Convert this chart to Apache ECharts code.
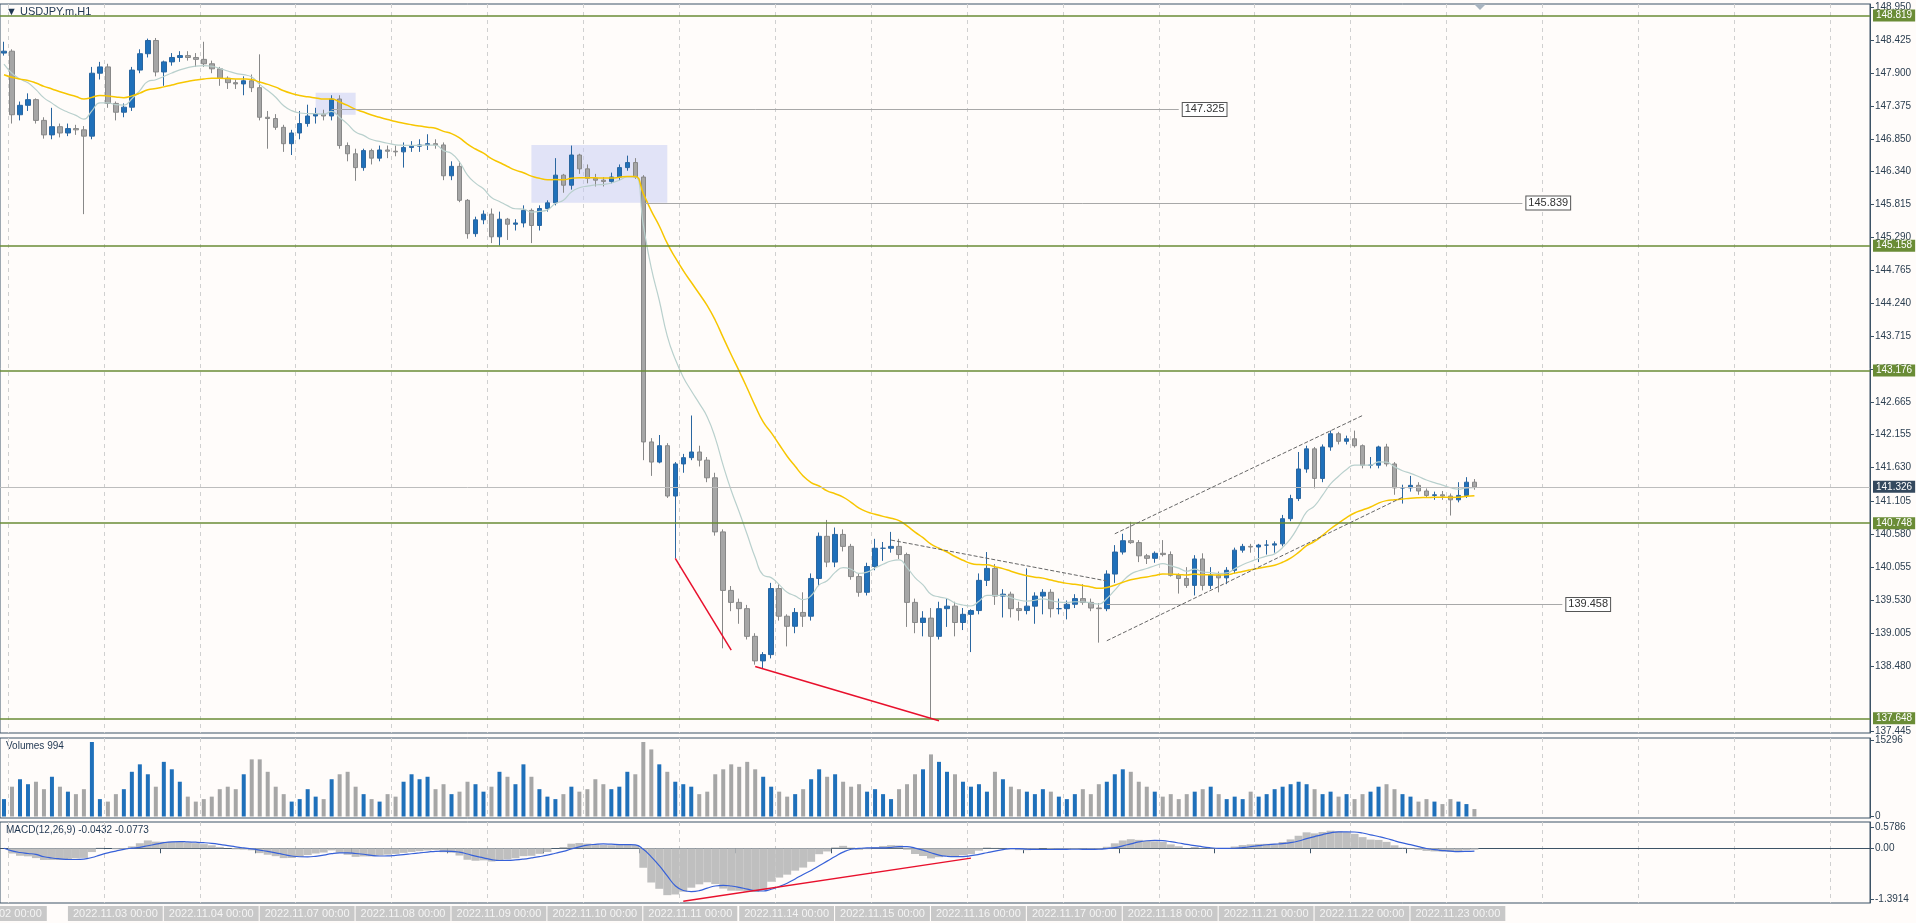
<!DOCTYPE html>
<html><head><meta charset="utf-8">
<script src="https://cdn.jsdelivr.net/npm/echarts@6/dist/echarts.min.js"></script>
<style>html,body{margin:0;padding:0;background:#fffcfa}#c{width:1916px;height:923px}</style>
</head><body><div id="c"></div>
<script>
// trading days (Nov 2022) and 2-hour bars
const tradingDays = [2,3,4,7,8,9,10,11,14,15,16,17,18,21,22,23];
// candles: [open, close, low, high]
const candles = [
[148.22,148.25,148.18,148.40],[148.25,147.24,147.10,148.28],[147.24,147.39,147.15,147.45],[147.39,147.48,147.30,147.58],
[147.48,147.15,147.10,147.50],[147.15,146.92,146.86,147.20],[146.92,147.05,146.85,147.35],[147.05,146.95,146.88,147.10],
[146.95,147.02,146.90,147.10],[147.02,147.00,146.92,147.08],[147.00,146.90,145.66,147.06],[146.90,147.90,146.85,148.00],
[147.90,148.00,147.80,148.08],[148.00,147.42,147.35,148.05],[147.42,147.28,147.15,147.45],[147.28,147.36,147.20,147.42],
[147.36,147.95,147.30,148.00],[147.95,148.21,147.90,148.28],[148.21,148.42,148.15,148.45],[148.42,147.92,147.85,148.46],
[147.92,148.08,147.70,148.10],[148.08,148.15,148.02,148.22],[148.15,148.18,148.08,148.25],[148.18,148.15,148.10,148.25],
[148.15,148.12,148.00,148.22],[148.12,148.05,148.00,148.40],[148.05,147.97,147.90,148.10],[147.97,147.82,147.70,148.00],
[147.82,147.75,147.65,147.85],[147.75,147.73,147.65,147.80],[147.73,147.78,147.55,147.85],[147.78,147.67,147.60,147.88],
[147.67,147.20,147.15,148.20],[147.20,147.18,146.70,147.30],[147.18,147.04,147.00,147.25],[147.04,146.78,146.65,147.08],
[146.78,146.95,146.60,147.00],[146.95,147.10,146.85,147.30],[147.10,147.22,147.05,147.40],[147.22,147.25,147.10,147.35],
[147.25,147.22,147.15,147.32],[147.22,147.49,147.15,147.55],[147.49,146.75,146.70,147.55],[146.75,146.62,146.50,146.80],
[146.62,146.40,146.19,146.70],[146.40,146.67,146.35,146.70],[146.67,146.55,146.45,146.70],[146.55,146.68,146.50,146.75],
[146.68,146.66,146.55,146.75],[146.66,146.65,146.58,146.75],[146.65,146.72,146.40,146.80],[146.72,146.74,146.65,146.82],
[146.74,146.76,146.65,146.85],[146.76,146.78,146.68,146.93],[146.78,146.76,146.70,146.85],[146.76,146.27,146.20,146.80],
[146.27,146.42,146.20,146.50],[146.42,145.88,145.85,146.50],[145.88,145.35,145.27,145.90],[145.35,145.57,145.30,145.62],
[145.57,145.66,145.50,145.72],[145.66,145.30,145.20,145.75],[145.30,145.58,145.16,145.70],[145.58,145.50,145.25,145.60],
[145.50,145.52,145.40,145.58],[145.52,145.72,145.45,145.80],[145.72,145.48,145.20,145.75],[145.48,145.75,145.40,145.80],
[145.75,145.84,145.70,145.88],[145.84,146.28,145.80,146.55],[146.28,146.12,146.00,146.30],[146.12,146.60,146.05,146.75],
[146.60,146.38,146.30,146.62],[146.38,146.23,146.15,146.45],[146.23,146.20,146.10,146.30],[146.20,146.18,146.10,146.25],
[146.18,146.25,146.15,146.32],[146.25,146.40,146.20,146.45],[146.40,146.48,146.35,146.59],[146.48,146.25,146.22,146.55],
[146.25,142.04,141.75,146.28],[142.04,141.72,141.50,142.10],[141.72,141.98,141.70,142.15],[141.98,141.18,141.15,142.02],
[141.18,141.69,140.19,141.72],[141.69,141.79,141.55,141.85],[141.79,141.88,141.75,142.46],[141.88,141.75,141.65,141.98],
[141.75,141.47,141.40,141.80],[141.47,140.61,140.55,141.55],[140.61,139.68,138.76,140.65],[139.68,139.49,139.35,139.75],
[139.49,139.39,139.15,139.55],[139.39,138.95,138.90,139.45],[138.95,138.56,138.50,139.00],[138.56,138.66,138.44,138.70],
[138.66,139.71,138.60,139.80],[139.71,139.27,139.20,139.78],[139.27,139.11,138.79,139.30],[139.11,139.33,139.00,139.40],
[139.33,139.27,139.10,139.65],[139.27,139.87,139.20,139.95],[139.87,140.54,139.75,140.60],[140.54,140.13,140.05,140.80],
[140.13,140.57,140.05,140.68],[140.57,140.38,140.30,140.65],[140.38,139.90,139.85,140.42],[139.90,139.65,139.58,139.95],
[139.65,140.06,139.60,140.12],[140.06,140.35,140.00,140.50],[140.35,140.35,140.15,140.45],[140.35,140.38,140.28,140.61],
[140.38,140.25,140.18,140.50],[140.25,139.49,139.10,140.28],[139.49,139.17,139.00,139.55],[139.17,139.24,138.95,139.35],
[139.24,138.95,137.64,139.40],[138.95,139.39,138.90,139.50],[139.39,139.43,139.10,139.55],[139.43,139.17,138.95,139.50],
[139.17,139.30,139.05,139.40],[139.30,139.36,138.70,139.38],[139.36,139.84,139.30,139.95],[139.84,140.03,139.75,140.29],
[140.03,139.59,139.45,140.10],[139.59,139.62,139.25,139.70],[139.62,139.39,139.25,139.66],[139.39,139.36,139.20,139.50],
[139.36,139.43,139.30,140.03],[139.43,139.59,139.15,139.65],[139.59,139.65,139.30,139.70],[139.65,139.39,139.25,139.70],
[139.39,139.39,139.30,139.55],[139.39,139.46,139.22,139.52],[139.46,139.55,139.40,139.62],[139.55,139.49,139.45,139.78],
[139.49,139.40,139.35,139.55],[139.40,139.39,138.85,139.48],[139.39,139.94,139.35,140.00],[139.94,140.29,139.80,140.40],
[140.29,140.47,140.25,140.58],[140.47,140.44,140.42,140.77],[140.44,140.23,140.13,140.48],[140.23,140.19,140.10,140.26],
[140.19,140.27,140.12,140.30],[140.27,140.25,140.22,140.48],[140.25,139.92,139.90,140.30],[139.92,139.87,139.63,139.95],
[139.87,139.76,139.72,140.05],[139.76,140.18,139.60,140.24],[140.18,139.76,139.68,140.27],[139.76,139.92,139.70,140.05],
[139.92,139.88,139.65,139.98],[139.88,140.00,139.78,140.05],[140.00,140.32,139.95,140.36],[140.32,140.38,140.28,140.42],
[140.38,140.37,140.28,140.42],[140.37,140.40,140.13,140.42],[140.40,140.40,140.25,140.48],[140.40,140.42,140.28,140.46],
[140.42,140.82,140.38,140.88],[140.82,141.14,140.78,141.20],[141.14,141.61,141.10,141.88],[141.61,141.93,141.55,141.98],
[141.93,141.46,141.30,141.96],[141.46,141.96,141.40,142.00],[141.96,142.17,141.90,142.22],[142.17,142.05,142.00,142.20],
[142.05,142.09,142.00,142.14],[142.09,141.98,141.95,142.22],[141.98,141.67,141.62,142.00],[141.67,141.67,141.62,141.80],
[141.67,141.96,141.62,141.98],[141.96,141.69,141.65,142.01],[141.69,141.31,141.20,141.72],[141.31,141.31,141.06,141.36],
[141.31,141.35,141.25,141.50],[141.35,141.26,141.20,141.40],[141.26,141.19,141.15,141.30],[141.19,141.20,141.12,141.25],
[141.20,141.18,141.12,141.26],[141.18,141.12,140.87,141.22],[141.12,141.19,141.08,141.40],[141.19,141.40,141.15,141.48],
[141.40,141.326,141.28,141.45]
];
const volumes = [
3500,6000,7500,6500,7000,5500,8000,6000,
5000,4500,5500,15000,3500,3000,4500,5500,9000,10500,8500,6000,
11000,9500,7000,4000,3000,3500,4000,5500,6000,5500,8500,11500,
11500,9000,6000,4500,3000,3500,5500,4000,3500,7500,8500,9000,
6000,4500,3500,3000,4500,4000,7000,8500,7500,8000,5500,6500,
4500,5000,7000,6500,5000,6000,9000,8000,6500,10500,8000,5500,
4000,3500,4500,6000,5000,5500,7500,6500,5500,6000,9000,8500,
15000,13500,10500,9000,7000,6500,6000,4500,5000,8500,9500,10500,
10000,11000,9500,8000,6000,5000,4000,4500,5500,7500,9500,8000,
8500,7000,6000,6500,5000,5500,4500,3500,5500,6500,8500,9500,
12500,11000,9000,8500,7000,6000,6500,5000,9000,7500,6000,5500,
5000,4500,5500,5000,4000,3500,4500,5500,4500,6500,7000,8500,
9500,9000,7000,6000,5000,4000,4500,3500,4500,5000,5500,6000,
4500,3500,4000,3500,5000,4000,4500,5500,6000,6500,7000,6500,
5500,4500,5000,4000,4500,3500,4500,5000,6000,6500,5500,4500,
4000,3000,3500,3000,2500,3500,3000,2500,1500];
const priceTicks = [148.950,148.425,147.900,147.375,146.850,146.340,145.815,145.290,144.765,144.240,143.715,143.190,142.665,142.155,141.630,141.105,140.580,140.055,139.530,139.005,138.480,137.445];
const greenLevels = [148.819,145.158,143.176,140.748,137.648];
const roundLevels = [149,148,147,146,145,144,143,142,141,140,139,138];
const volTicks = [0,15296];
const macdTicks = [0.5786,0,-1.3914];
const macdTickText = ['0.5786','0.00','-1.3914'];

const cats = [];
tradingDays.forEach(d => {
  const h0 = d === 2 ? 8 : 0, h1 = d === 23 ? 16 : 22;
  for (let h = h0; h <= h1; h += 2) cats.push('2022.11.' + String(d).padStart(2,'0') + ' ' + String(h).padStart(2,'0') + ':00');
});
const TOTAL = 234;
while (cats.length < TOTAL) cats.push('');
const closes = candles.map(c => c[1]);
function sma(arr, n){ return arr.map((v,i)=>{const s=Math.max(0,i-n+1);let t=0;for(let k=s;k<=i;k++)t+=arr[k];return +(t/(i-s+1)).toFixed(4);}); }
function ema(arr, n, init){ const a=2/(n+1); let e=init!==undefined?init:arr[0]; return arr.map(v=>(e=e+(v-e)*a)); }
const maFast = ema(closes, 10, 148.0).map(v=>+v.toFixed(4));
const maSlow = ema(closes, 30, 147.85).map(v=>+v.toFixed(4));
const ef = ema(closes,6), es = ema(closes,13);
const macdMain = ef.map((v,i)=>+(v-es[i]).toFixed(4));
const macdSig = sma(macdMain,5);
const upColor='#1f70ba', dnColor='#a6a6a6';
const volData = volumes.map((v,i)=>({value:v,itemStyle:{color: candles[i][1]>=candles[i][0]?upColor:dnColor}}));

const dashed = {type:'dashed',color:'#666',width:1};
const red = {type:'solid',color:'#e8102c',width:1.5};
const markLines = [];
greenLevels.forEach(v=>markLines.push({yAxis:v,lineStyle:{color:'#6a8c36',width:1.5,type:'solid'},
  label:{show:true,position:'end',formatter:v.toFixed(3),backgroundColor:'#6a8c36',color:'#fff',padding:[1,3],fontSize:10,distance:3}}));
markLines.push({yAxis:141.326,lineStyle:{color:'#bdbdbd',width:1,type:'solid'},
  label:{show:true,position:'end',formatter:'141.326',backgroundColor:'#34495e',color:'#fff',padding:[1,3],fontSize:10,distance:3}});
function seg(x1,y1,x2,y2,style,label){ const a={coord:[x1,y1],lineStyle:style}; if(label)a.label=label; else a.label={show:false}; return [a,{coord:[x2,y2]}]; }
const boxLabel = t => ({show:true,position:'end',formatter:t,backgroundColor:'#fff',borderColor:'#555',borderWidth:1,color:'#333',padding:[1,2],fontSize:11,distance:4});
const gline = {type:'solid',color:'#a8a8a8',width:1};
markLines.push(seg(41,147.325,146.5,147.325,gline,boxLabel('147.325')));
markLines.push(seg(80,145.839,189.5,145.839,gline,boxLabel('145.839')));
markLines.push(seg(138,139.458,195,139.458,gline,boxLabel('139.458')));
roundLevels.forEach(v=>markLines.push(seg(208.6,v,233.5,v,{type:'solid',color:'#9e9e9e',width:1},
  {show:true,position:'insideStartBottom',formatter:v.toFixed(3),color:'#b3b3b3',fontSize:13,distance:[-2,2]})));
markLines.push(seg(84,140.19,91,138.73,red));
markLines.push(seg(94,138.47,117,137.61,red));
markLines.push(seg(111,140.48,138,139.83,dashed));
markLines.push(seg(139,140.58,170,142.46,dashed));
markLines.push(seg(138,138.88,175,141.16,dashed));

const gridLine = {show:true,interval:(i)=>i%12===1,lineStyle:{color:'#d0d0d0',type:[4,4]}};
const font='Liberation Sans';
const option = {
  backgroundColor:'#fffcfa', animation:false,
  textStyle:{fontFamily:font},
  grid:[
    {left:0,right:46,top:4,height:729,show:true,borderColor:'#3d5366',borderWidth:1},
    {left:0,right:46,top:738,height:80,show:true,borderColor:'#3d5366',borderWidth:1},
    {left:0,right:46,top:822,height:81,show:true,borderColor:'#3d5366',borderWidth:1}
  ],
  xAxis:[0,1,2].map(g=>({type:'category',gridIndex:g,data:cats,boundaryGap:true,
    axisLine:{show:g===2,lineStyle:{color:'#3d5366'}},axisTick:{show:g===2,interval:(i,v)=>v.endsWith('00:00'),lineStyle:{color:'#3d5366'}},
    splitLine:gridLine,
    axisLabel:g===2?{show:true,interval:(i,v)=>v.endsWith('00:00'),align:'left',margin:3,fontSize:11,color:'#f4f4f4',backgroundColor:'#c8c8c8',padding:[2,5]}:{show:false}})),
  yAxis:[
    {type:'value',gridIndex:0,position:'right',min:137.414,max:149.0,
      axisLine:{show:true,lineStyle:{color:'#3d5366'}},axisTick:{show:true,customValues:priceTicks,length:4},splitLine:{show:false},
      axisLabel:{customValues:priceTicks,formatter:v=>v.toFixed(3),color:'#2b3e50',fontSize:10,margin:5}},
    {type:'value',gridIndex:1,position:'right',min:-300,max:15800,
      axisLine:{show:true,lineStyle:{color:'#3d5366'}},axisTick:{show:true,customValues:volTicks,length:4},splitLine:{show:false},
      axisLabel:{customValues:volTicks,formatter:v=>String(Math.round(v)),color:'#2b3e50',fontSize:10,margin:5}},
    {type:'value',gridIndex:2,position:'right',min:-1.5,max:0.72,
      axisLine:{show:true,lineStyle:{color:'#3d5366'}},axisTick:{show:true,customValues:macdTicks,length:4},splitLine:{show:false},
      axisLabel:{customValues:macdTicks,formatter:v=>macdTickText[macdTicks.indexOf(v)]||v.toFixed(2),color:'#2b3e50',fontSize:10,margin:5}}
  ],
  series:[
    {type:'candlestick',xAxisIndex:0,yAxisIndex:0,data:candles,barWidth:5,z:3,
      itemStyle:{color:upColor,color0:dnColor,borderColor:'#2a66a0',borderColor0:'#888',borderWidth:1},
      markLine:{silent:true,symbol:['none','none'],animation:false,data:markLines,precision:3},
      markArea:{silent:true,itemStyle:{color:'rgba(196,202,244,0.5)'},data:[
        [{coord:[39,147.59]},{coord:[43.5,147.24]}],
        [{coord:[65.5,146.76]},{coord:[82.5,145.84]}]]}},
    {type:'line',xAxisIndex:0,yAxisIndex:0,data:maFast,showSymbol:false,smooth:true,lineStyle:{color:'#b9d0cd',width:1.2},z:4},
    {type:'line',xAxisIndex:0,yAxisIndex:0,data:maSlow,showSymbol:false,smooth:true,lineStyle:{color:'#f7c600',width:1.5},z:4},
    {type:'bar',xAxisIndex:1,yAxisIndex:1,data:volData,barWidth:4},
    {type:'bar',xAxisIndex:2,yAxisIndex:2,data:macdMain,barCategoryGap:'0%',itemStyle:{color:'#bfbfbf'}},
    {type:'line',xAxisIndex:2,yAxisIndex:2,data:macdSig,showSymbol:false,smooth:true,lineStyle:{color:'#3660d8',width:1.2},
      markLine:{silent:true,symbol:['none','none'],data:[seg(84.5,-1.45,120.5,-0.27,{type:'solid',color:'#e8102c',width:1.5})]}}
  ],
  graphic:[
    {type:'text',left:6,top:6,style:{text:'▼ USDJPY.m,H1',fontSize:11,fill:'#1e3550',fontFamily:font}},
    {type:'text',left:6,top:741,style:{text:'Volumes 994',fontSize:10,fill:'#1e3550',fontFamily:font}},
    {type:'text',left:6,top:825,style:{text:'MACD(12,26,9) -0.0432 -0.0773',fontSize:10,fill:'#1e3550',fontFamily:font}},
    {type:'text',left:-48,top:906,style:{text:'2022.11.02 00:00',fontSize:11,fill:'#f4f4f4',backgroundColor:'#c8c8c8',padding:[2,5],fontFamily:font}},
    {type:'polygon',shape:{points:[[1474,4],[1486,4],[1480,10]]},style:{fill:'#a8b4c0'}}
  ]
};
echarts.init(document.getElementById('c')).setOption(option);
</script></body></html>
